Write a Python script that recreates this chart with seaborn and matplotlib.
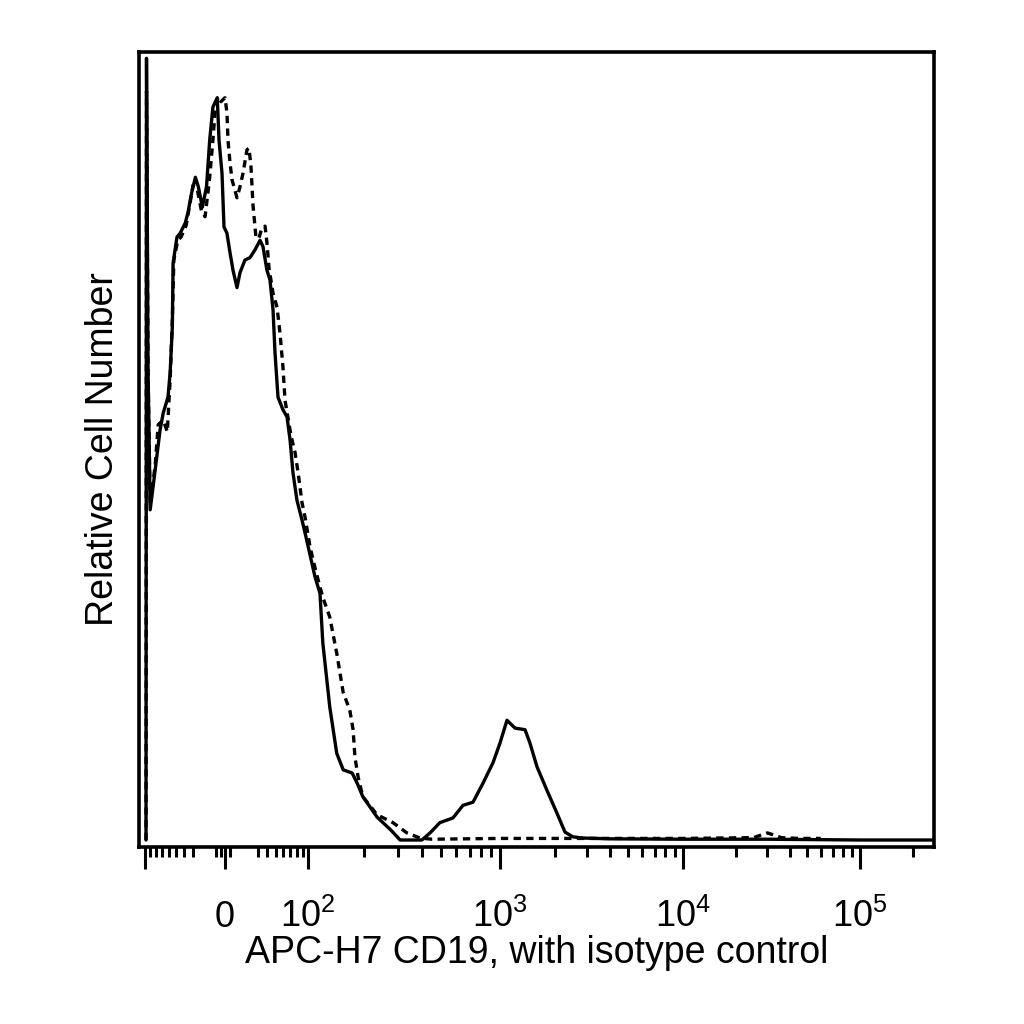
import numpy as np
import matplotlib
matplotlib.use("Agg")
import matplotlib.pyplot as plt
import seaborn as sns

# CD19 stained sample (solid) - fluorescence value vs relative count
cd19_x = [-98, -97, -94, -90, -81, -73, -68, -61, -58, -55, -54, -49, -45, -39, -36,
          -32, -28, -25, -21, -17, -14, -11, -7, -5.4, -2.7, -0.9, 1.7, 4.4, 7.0, 10.5,
          13.2, 17.7, 22.4, 27.3, 32.4, 35.5, 39.8, 43.2, 46.8, 49.2, 52.9, 59.4, 65.0,
          69.4, 73.9, 80.3, 88.9, 94.3, 109.5, 116.7, 121, 132, 144, 156, 174, 185, 198,
          235, 276, 309, 400, 440, 494, 576, 648, 729, 819, 921, 1000, 1092, 1208, 1370,
          1458, 1593, 1806, 2049, 2266, 2505, 2842, 4000, 10000, 30000, 100000, 262000]
cd19_y = [0, 99.2, 59.6, 41.9, 47.0, 52.0, 54.2, 56.2, 59.3, 65.1, 73.2, 76.5, 77.0,
          78.3, 79.6, 82.1, 84.1, 82.9, 80.3, 82.9, 88.8, 93.0, 94.2, 88.8, 84.6, 77.8,
          77.0, 74.5, 72.3, 70.1, 72.0, 73.6, 73.9, 74.9, 76.1, 75.3, 72.3, 71.1, 67.3,
          61.8, 56.2, 54.6, 53.7, 50.8, 46.6, 43.1, 40.6, 39.0, 33.4, 31.3, 25.0, 16.9,
          11.0, 8.9, 8.5, 7.2, 5.5, 2.9, 1.3, 0, 0, 0.9, 2.2, 2.8, 4.4, 4.8, 7.2, 9.8,
          12.3, 15.2, 14.2, 14.0, 12.3, 9.3, 6.3, 3.4, 1.0, 0.4, 0.25, 0.15, 0.1, 0.1, 0, 0]

# isotype control (dashed)
iso_x = [-98, -97, -94, -90, -81, -76, -68, -62, -58, -55, -53, -48, -44, -38, -34,
         -30.5, -26, -22, -18.4, -15.6, -14, -11, -9.1, -6.3, -3.6, 0, 1.7, 2.6, 4.4,
         6.1, 10.5, 13.2, 15.9, 19.6, 21.5, 23.4, 25.3, 28.3, 31.3, 34.4, 37.7, 39.8,
         42.1, 46.8, 51.7, 55.5, 59.4, 62.2, 66.4, 70.9, 77.1, 82.0, 88.9, 94.3, 102.7,
         111, 121, 132, 144, 156, 169, 176, 180, 187, 198, 235, 284, 335, 391, 450,
         1000, 3000, 10000, 25000, 30000, 36000, 45000, 60000]
iso_y = [0, 95, 59.6, 42.5, 47.6, 52.7, 53.3, 51.8, 58.4, 66.0, 73.6, 76.1, 76.5, 78.0,
         80.6, 83.1, 82.5, 79.9, 79.1, 82.2, 84.1, 88.8, 92.3, 94.3, 93.7, 94.2, 92.3,
         88.8, 85.9, 83.8, 81.5, 82.9, 84.6, 87.6, 87.8, 85.4, 80.6, 76.4, 76.4, 77.7,
         77.9, 75.8, 72.6, 69.4, 67.6, 64.3, 60.0, 55.8, 53.6, 51.3, 49.2, 46.7, 42.8,
         41.0, 37.2, 34.0, 30.8, 28.3, 23.7, 18.7, 16.5, 14.0, 10.5, 8.0, 5.5, 3.2, 2.2,
         0.9, 0.25, 0.1, 0.2, 0.2, 0.2, 0.3, 0.9, 0.3, 0.2, 0.2]

major_vals = [-100, 0, 1e2, 1e3, 1e4, 1e5]
major_labels = ["", "0", r"$\mathregular{10^{2}}$", r"$\mathregular{10^{3}}$",
                r"$\mathregular{10^{4}}$", r"$\mathregular{10^{5}}$"]
mid_vals = [-50, 50, 500, 5000, 50000]
minor_vals = ([-90, -80, -70, -60, -40, -30, -8, -4, 4, 30, 40, 60, 70, 80, 90]
              + [m * 10 ** k for k in (2, 3, 4) for m in (2, 3, 4, 6, 7, 8, 9)]
              + [200000])

sns.set_style("white")
plt.rcParams["font.family"] = ["Liberation Sans", "DejaVu Sans"]
plt.rcParams["text.color"] = "black"
plt.rcParams["axes.labelcolor"] = "black"
plt.rcParams["xtick.color"] = "black"
plt.rcParams["xtick.labelcolor"] = "black"

# biexponential-like display scale anchored on the decade marks
LN10 = np.log(10)


def asinh_u(v):
    return np.arcsinh(np.asarray(v, dtype=float) / 50.0) / LN10


anchor_vals = np.array([-100, 0, 1e2, 1e3, 1e4, 1e5])
anchor_pos = np.array([6.0, 86, 169, 361, 544, 721])   # axis units, 0..795
ua = asinh_u(anchor_vals)
lo_slope = (anchor_pos[1] - anchor_pos[0]) / (ua[1] - ua[0])
hi_slope = (anchor_pos[-1] - anchor_pos[-2]) / (ua[-1] - ua[-2])
U_EXT = np.r_[ua[0] - 10, ua, ua[-1] + 10]
P_EXT = np.r_[anchor_pos[0] - 10 * lo_slope, anchor_pos, anchor_pos[-1] + 10 * hi_slope]


def biex_fwd(v):
    return np.interp(asinh_u(v), U_EXT, P_EXT)


def biex_inv(p):
    return 50.0 * np.sinh(np.interp(np.asarray(p, dtype=float), P_EXT, U_EXT) * LN10)


fig = plt.figure(figsize=(10.24, 10.24), dpi=100)
ax = fig.add_axes([139 / 1024, 1 - 847 / 1024, 795 / 1024, 795 / 1024])
ax.set_xscale("function", functions=(biex_fwd, biex_inv))

sns.lineplot(x=cd19_x, y=cd19_y, ax=ax, color="black", linewidth=2.4,
             estimator=None, sort=False)
sns.lineplot(x=iso_x, y=iso_y, ax=ax, color="black", linewidth=2.4,
             linestyle=(0, (2.2, 1.6)), estimator=None, sort=False)

ax.set_xlim(float(biex_inv(0)), float(biex_inv(795)))
ax.set_ylim(-0.888, 100)

for s in ax.spines.values():
    s.set_visible(True)
    s.set_color("black")
    s.set_linewidth(2.6)

ax.set_yticks([])
ax.set_xticks(major_vals, labels=major_labels)
ax.set_xticks(mid_vals + minor_vals, minor=True)
ax.tick_params(axis="x", which="both", direction="out", bottom=True, top=False,
               width=2.2, color="black", labelcolor="black")
ax.tick_params(axis="x", which="major", length=16, labelsize=26, pad=41.5)
ax.tick_params(axis="x", which="minor", length=7.5)
for t in ax.xaxis.get_minor_ticks():
    if t.get_loc() in mid_vals:
        t.tick1line.set_markersize(11)
for lab in ax.get_xticklabels():
    lab.set_verticalalignment("baseline")

ax.set_xlabel("APC-H7 CD19, with isotype control", fontsize=27, labelpad=0,
              color="black")
ax.set_ylabel("Relative Cell Number", fontsize=27, labelpad=13, color="black")

fig.savefig("out.png", dpi=100, facecolor="white")
